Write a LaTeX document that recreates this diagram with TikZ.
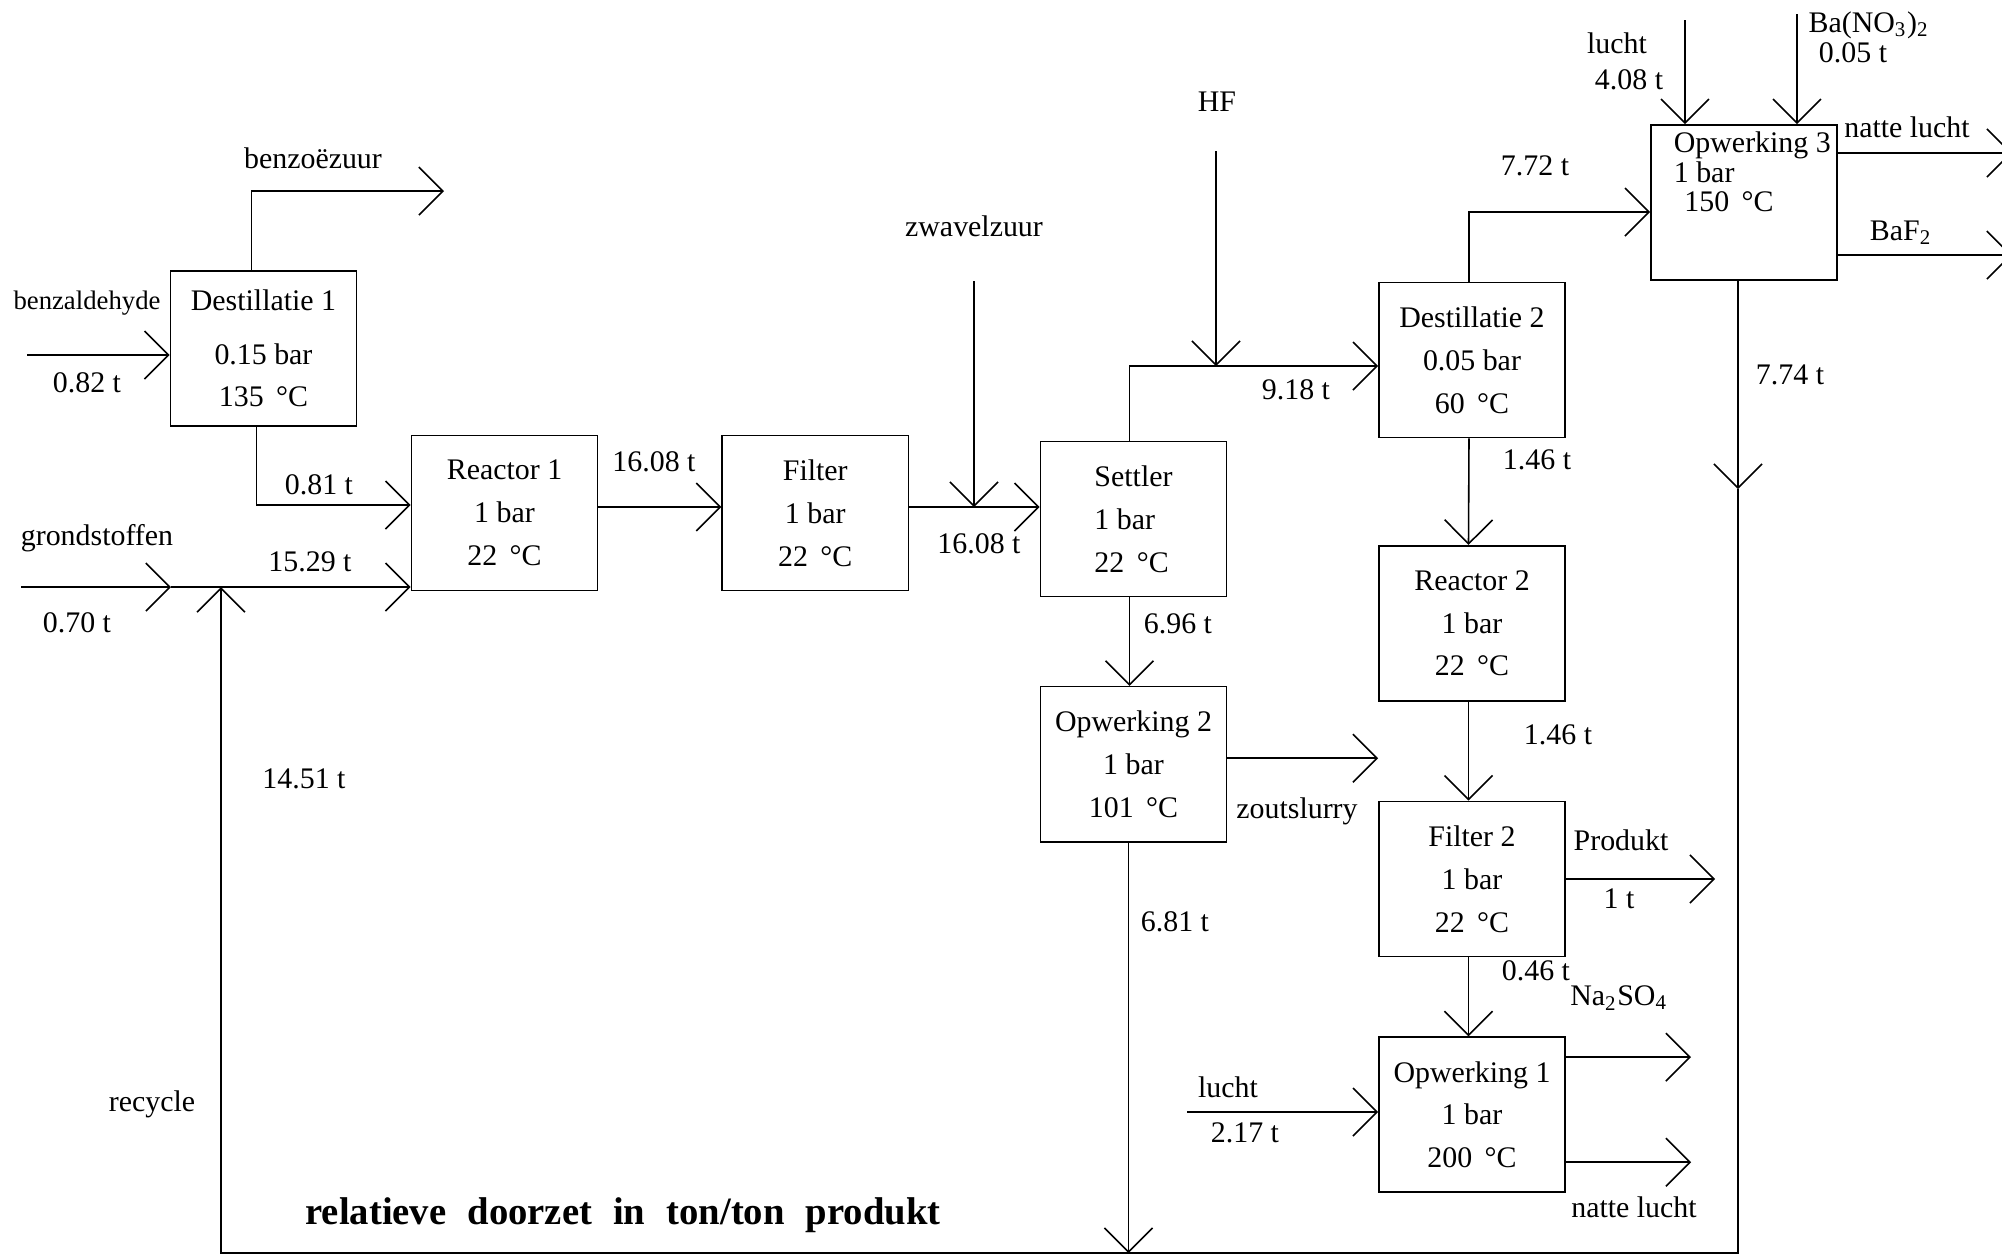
\documentclass[tikz,border=0pt]{standalone}
\usepackage{fontspec}
\setmainfont{Liberation Serif}
\usetikzlibrary{arrows.meta,positioning}

\begin{document}
\begin{tikzpicture}[x=0.01cm, y=-0.01cm,
  font=\fontsize{8.5}{12.2}\selectfont, node distance=1cm,
  box/.style={draw, line width=0.45pt, minimum width=1.86cm, minimum height=1.55cm,
              inner sep=1pt, align=center},
  ar/.style={-{Straight Barb[length=2.4mm, width=4.8mm]}, line width=0.45pt},
  lab/.style={inner sep=0pt}]
\useasboundingbox (0,0) rectangle (2002,1256);

\node[box] (dest1) at (263.5,348.5) {Destillatie 1\\[3pt]0.15 bar\\135 \,°C};
\node[box] (reac1) at (504.5,513) {Reactor 1\\1 bar\\22 \,°C};
\node[box, right=1.23cm of reac1] (filt1) {Filter\\1 bar\\22 \,°C};
\node[box, align=left] (settl) at (1133.5,519) {Settler\\1 bar\\22 \,°C};
\node[box, below=0.885cm of settl] (opw2) {Opwerking 2\\1 bar\\101 \,°C};
\node[box] (dest2) at (1472,360) {Destillatie 2\\0.05 bar\\60 \,°C};
\node[box, below=1.065cm of dest2] (reac2) {Reactor 2\\1 bar\\22 \,°C};
\node[box, below=0.99cm of reac2] (filt2) {Filter 2\\1 bar\\22 \,°C};
\node[box, below=0.79cm of filt2] (opw1) {Opwerking 1\\1 bar\\200 \,°C};
\node[box] (opw3) at (1744,202.5) {};
\node[lab, align=left, anchor=north west, font=\fontsize{8.5}{8.4}\selectfont]
  (opw3txt) at ([shift={(0.23cm,-0.07cm)}]opw3.north west) {Opwerking 3\\1 bar\\\hspace{3pt}150 \,°C};

\coordinate (benzin) at (27,355);
\coordinate (benzout) at (444,191);
\coordinate (grondin) at (21,587);
\coordinate (grondtip) at (171,587);
\coordinate (fsline) at ([yshift=0.06cm]filt1.east);
\coordinate (zwtop) at (974,281);
\coordinate (d2in) at ([yshift=-0.06cm]dest2.west);
\coordinate (hftop) at (1216,151);
\coordinate (lucht1in) at (1187,1112);
\coordinate (lucht3in) at (1685,20);
\coordinate (bain) at (1797,14);
\coordinate (prodout) at (1715,0);
\coordinate (opw1out) at (1691,0);
\coordinate (zoutout) at (1378,0);
\coordinate (opw3out) at (2012,0);
\coordinate (op2bot) at ([xshift=-0.05cm]opw2.south);
\coordinate (mid774) at (1738,489);
\coordinate (recycl) at (221,1253);

\draw[ar] (benzin) -- (benzin -| dest1.west);
\draw[ar] ([xshift=-0.12cm]dest1.north) |- (benzout);
\draw[ar] ([xshift=-0.07cm]dest1.south) |- ([yshift=0.08cm]reac1.west);
\draw[ar] (grondin) -- (grondtip);
\draw[ar] (grondtip) -- (grondtip -| reac1.west);
\draw[ar] ([yshift=0.06cm]reac1.east) -- ([yshift=0.06cm]filt1.west);
\draw[ar] (fsline) -- (fsline -| settl.west);
\draw[ar] (zwtop) -- (zwtop |- fsline);
\draw[ar] ([xshift=-0.04cm]settl.north) |- (d2in);
\draw[ar] (hftop) -- (hftop |- d2in);
\draw[ar] ([xshift=-0.03cm]dest2.north) |- ([yshift=-0.095cm]opw3.west);
\draw[ar] ([xshift=-0.03cm]dest2.south) -- ([xshift=-0.035cm]reac2.north);
\draw[ar] ([xshift=-0.035cm]reac2.south) -- ([xshift=-0.035cm]filt2.north);
\draw[ar] ([xshift=-0.035cm]filt2.south) -- ([xshift=-0.035cm]opw1.north);
\draw[ar] (filt2.east) -- (filt2.east -| prodout);
\draw[ar] ([yshift=0.575cm]opw1.east) -- ([yshift=0.575cm]opw1.east -| opw1out);
\draw[ar] ([yshift=-0.475cm]opw1.east) -- ([yshift=-0.475cm]opw1.east -| opw1out);
\draw[ar] (lucht1in) -- (lucht1in -| opw1.west);
\draw[ar] ([xshift=-0.04cm]settl.south) -- ([xshift=-0.04cm]opw2.north);
\draw[ar] ([yshift=0.06cm]opw2.east) -- ([yshift=0.06cm]opw2.east -| zoutout);
\draw[ar] (op2bot) -- (op2bot |- recycl);
\draw[ar] (lucht3in) -- (lucht3in |- opw3.north);
\draw[ar] (bain) -- (bain |- opw3.north);
\draw[ar] ([yshift=0.495cm]opw3.east) -- ([yshift=0.495cm]opw3.east -| opw3out);
\draw[ar] ([yshift=-0.525cm]opw3.east) -- ([yshift=-0.525cm]opw3.east -| opw3out);
\draw[ar] (opw3.south -| mid774) -- (mid774);
\draw[ar] (mid774) |- (recycl) -- (recycl |- grondtip);

\node[lab] (l-benzz) at (313,158) {benzoëzuur};
\node[lab, font=\fontsize{7.6}{9}\selectfont] (l-benzald) at (87,303) {benzaldehyde};
\node[lab] (l-082) at (87,383) {0.82 t};
\node[lab] (l-081) at (319,485) {0.81 t};
\node[lab] (l-grond) at (97,538) {grondstoffen};
\node[lab] (l-070) at (77,623) {0.70 t};
\node[lab] (l-1529) at (310,562) {15.29 t};
\node[lab] (l-1608a) at (654,462) {16.08 t};
\node[lab] (l-1451) at (304,779) {14.51 t};
\node[lab] (l-recycle) at (152,1104) {recycle};
\node[lab] (l-zwavel) at (974,226) {zwavelzuur};
\node[lab] (l-1608b) at (979,544) {16.08 t};
\node[lab] (l-hf) at (1217,102) {HF};
\node[lab] (l-918) at (1296,390) {9.18 t};
\node[lab] (l-772) at (1535,166) {7.72 t};
\node[lab] (l-146a) at (1537,460) {1.46 t};
\node[lab] (l-146b) at (1558,735) {1.46 t};
\node[lab] (l-046) at (1536,971) {0.46 t};
\node[lab] (l-prod) at (1621,840) {Produkt};
\node[lab] (l-1t) at (1619,899) {1 t};
\node[lab] (l-na) at (1619,998) {Na\textsubscript{2}SO\textsubscript{4}};
\node[lab] (l-natte1) at (1634,1207) {natte lucht};
\node[lab] (l-lucht1) at (1228,1087) {lucht};
\node[lab] (l-217) at (1245,1133) {2.17 t};
\node[lab] (l-696) at (1178,624) {6.96 t};
\node[lab] (l-zout) at (1297,811) {zoutslurry};
\node[lab] (l-681) at (1175,922) {6.81 t};
\node[lab] (l-774) at (1790,375) {7.74 t};
\node[lab] (l-lucht3) at (1617,43) {lucht};
\node[lab] (l-408) at (1629,80) {4.08 t};
\node[lab] (l-bano) at (1869,25) {Ba(NO\textsubscript{3})\textsubscript{2}};
\node[lab] (l-005) at (1853,53) {0.05 t};
\node[lab] (l-natte3) at (1907,127) {natte lucht};
\node[lab] (l-baf) at (1901,233) {BaF\textsubscript{2}};
\node[lab, font=\fontsize{11}{13}\selectfont\bfseries] (titel) at (623,1215)
  {relatieve\hspace{6pt}doorzet\hspace{6pt}in\hspace{6pt}ton/ton\hspace{6pt}produkt};
\end{tikzpicture}
\end{document}
